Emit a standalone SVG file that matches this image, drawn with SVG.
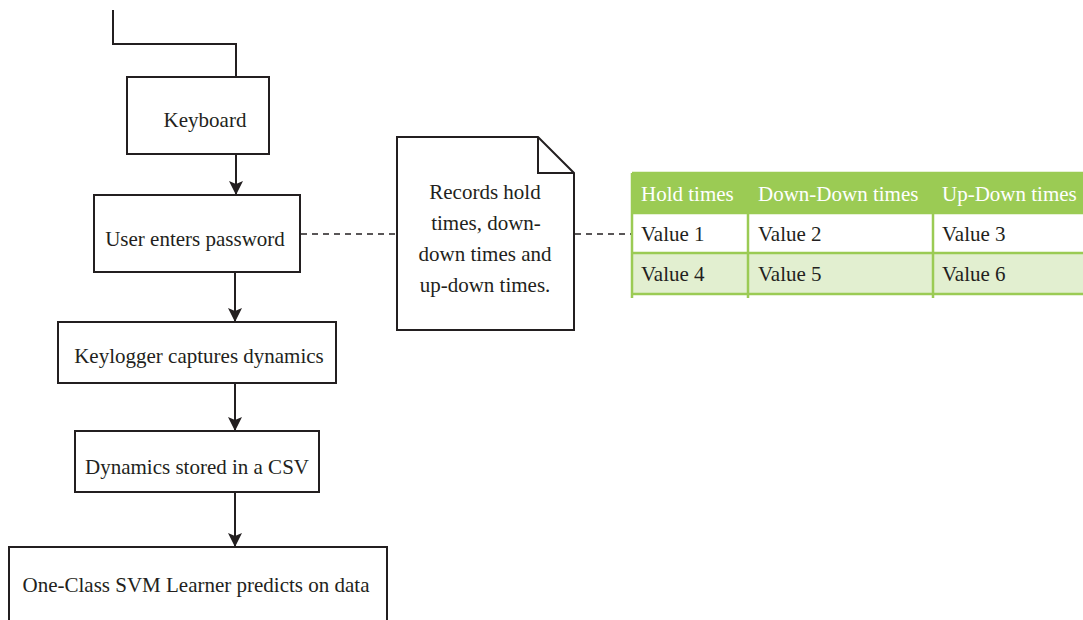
<svg xmlns="http://www.w3.org/2000/svg" width="1083" height="620" viewBox="0 0 1083 620">
<style>
.box{fill:#fff;stroke:#231f20;stroke-width:2}
.t{font-family:"Liberation Serif","DejaVu Serif",serif;font-size:21px;fill:#231f20}
.c{text-anchor:middle}
.ln{fill:none;stroke:#231f20;stroke-width:2}
.dash{fill:none;stroke:#231f20;stroke-width:1.5;stroke-dasharray:6,5}
.th{font-family:"Liberation Serif","DejaVu Serif",serif;font-size:21px;fill:#fff}
.g{fill:none;stroke:#9bcb54;stroke-width:2.5}
</style>
<defs>
<marker id="arr" markerWidth="14" markerHeight="14" viewBox="0 0 14 14" refX="13" refY="7" orient="auto" markerUnits="userSpaceOnUse">
<path d="M0,0 L14,7 L0,14 L3,7 Z" fill="#231f20"/>
</marker>
</defs>
<g id="connectors">
<path class="ln" d="M113,10 V44 H236 V77"/>
<path class="ln" d="M236,154 V194" marker-end="url(#arr)"/>
<path class="ln" d="M235,272 V321" marker-end="url(#arr)"/>
<path class="ln" d="M235,383 V430" marker-end="url(#arr)"/>
<path class="ln" d="M235,492 V546" marker-end="url(#arr)"/>
<path class="dash" d="M301,234 H396"/>
<path class="dash" d="M575,234 H631"/>
</g>
<g id="keyboard">
<rect class="box" x="127" y="77" width="142" height="77"/>
<text class="t c" x="205" y="127">Keyboard</text>
</g>
<g id="password">
<rect class="box" x="94" y="195" width="206" height="77"/>
<text class="t c" x="195" y="246">User enters password</text>
</g>
<g id="keylogger">
<rect class="box" x="58" y="322" width="278" height="61"/>
<text class="t c" x="199" y="363">Keylogger captures dynamics</text>
</g>
<g id="csv">
<rect class="box" x="75" y="431" width="244" height="61"/>
<text class="t c" x="197" y="474">Dynamics stored in a CSV</text>
</g>
<g id="svm">
<rect class="box" x="9" y="547" width="378" height="80"/>
<text class="t c" x="196" y="592">One-Class SVM Learner predicts on data</text>
</g>
<g id="note">
<path class="box" d="M397,137 H538 L574,173 V330 H397 Z"/>
<path class="ln" d="M538,137 V173 H574"/>
<text class="t c" x="485" y="199">Records hold</text>
<text class="t c" x="486" y="230">times, down-</text>
<text class="t c" x="485" y="261">down times and</text>
<text class="t c" x="485" y="292">up-down times.</text>
</g>
<g id="table">
<rect x="632" y="173" width="451" height="40" fill="#9bcb54"/>
<rect x="632" y="253" width="451" height="41" fill="#e2efd0"/>
<path class="g" d="M632,173 H1083 M632,213 H1083 M632,253 H1083 M632,294 H1083 M632,173 V298 M748,173 V298 M933,173 V298"/>
<text class="th" x="641" y="201">Hold times</text>
<text class="th" x="758" y="201">Down-Down times</text>
<text class="th" x="942" y="201">Up-Down times</text>
<text class="t" x="641" y="241">Value 1</text>
<text class="t" x="758" y="241">Value 2</text>
<text class="t" x="942" y="241">Value 3</text>
<text class="t" x="641" y="281">Value 4</text>
<text class="t" x="758" y="281">Value 5</text>
<text class="t" x="942" y="281">Value 6</text>
</g>
</svg>
